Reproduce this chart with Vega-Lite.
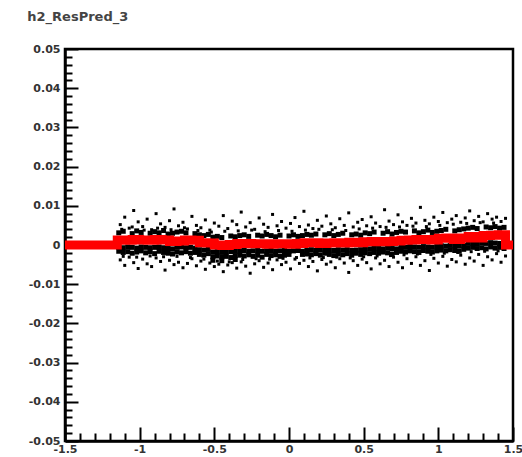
{
  "$schema": "https://vega.github.io/schema/vega-lite/v6.json",
  "width": 448,
  "height": 392,
  "autosize": {"type": "none"},
  "padding": {"left": 65, "top": 49, "right": 9, "bottom": 16},
  "background": "white",
  "config": {
    "view": {"stroke": "black", "strokeWidth": 2.5},
    "axis": {"grid": false, "domainColor": "black", "domainWidth": 2.5, "tickColor": "black", "tickWidth": 2, "labelFont": "DejaVu Sans", "labelFontWeight": "bold", "labelFontSize": 11, "labelColor": "#333", "labelOverlap": false, "labelBound": false, "labelFlush": false, "title": null}
  },
  "title": {"text": "h2_ResPred_3", "anchor": "start", "dx": -1, "offset": 19, "font": "DejaVu Sans", "fontSize": 13, "fontWeight": "bold", "color": "#444"},
  "datasets": {
    "band": [
      {"x": -1.14, "y": 0.0031}, {"x": -1.14, "y": -0.0006}, {"x": -1.14, "y": -0.0016},
      {"x": -1.11, "y": 0.0035}, {"x": -1.11, "y": -0.0007}, {"x": -1.11, "y": -0.0019},
      {"x": -1.08, "y": -0.0005}, {"x": -1.08, "y": -0.0017},
      {"x": -1.05, "y": 0.0029}, {"x": -1.05, "y": -0.0006}, {"x": -1.05, "y": -0.0021},
      {"x": -1.02, "y": 0.0036}, {"x": -1.02, "y": -0.0008}, {"x": -1.02, "y": -0.0018},
      {"x": -0.99, "y": 0.0032}, {"x": -0.99, "y": -0.0005}, {"x": -0.99, "y": -0.0015},
      {"x": -0.96, "y": -0.0006}, {"x": -0.96, "y": -0.0020},
      {"x": -0.93, "y": 0.0030}, {"x": -0.93, "y": -0.0007}, {"x": -0.93, "y": -0.0017},
      {"x": -0.90, "y": 0.0034}, {"x": -0.90, "y": -0.0006}, {"x": -0.90, "y": -0.0022},
      {"x": -0.87, "y": 0.0031}, {"x": -0.87, "y": -0.0005}, {"x": -0.87, "y": -0.0016},
      {"x": -0.84, "y": 0.0037}, {"x": -0.84, "y": -0.0007}, {"x": -0.84, "y": -0.0019},
      {"x": -0.81, "y": 0.0028}, {"x": -0.81, "y": -0.0009}, {"x": -0.81, "y": -0.0021},
      {"x": -0.78, "y": 0.0030}, {"x": -0.78, "y": -0.0010}, {"x": -0.78, "y": -0.0023},
      {"x": -0.75, "y": 0.0033}, {"x": -0.75, "y": -0.0006}, {"x": -0.75, "y": -0.0018},
      {"x": -0.72, "y": 0.0035}, {"x": -0.72, "y": -0.0005}, {"x": -0.72, "y": -0.0020},
      {"x": -0.69, "y": 0.0031}, {"x": -0.69, "y": -0.0007}, {"x": -0.69, "y": -0.0017},
      {"x": -0.66, "y": -0.0006}, {"x": -0.66, "y": -0.0021},
      {"x": -0.63, "y": 0.0029}, {"x": -0.63, "y": -0.0008}, {"x": -0.63, "y": -0.0019},
      {"x": -0.60, "y": 0.0026}, {"x": -0.60, "y": -0.0012}, {"x": -0.60, "y": -0.0024},
      {"x": -0.57, "y": 0.0024}, {"x": -0.57, "y": -0.0013}, {"x": -0.57, "y": -0.0026},
      {"x": -0.54, "y": 0.0027}, {"x": -0.54, "y": -0.0011}, {"x": -0.54, "y": -0.0022},
      {"x": -0.51, "y": 0.0020}, {"x": -0.51, "y": -0.0018}, {"x": -0.51, "y": -0.0030}, {"x": -0.51, "y": -0.0039},
      {"x": -0.48, "y": 0.0022}, {"x": -0.48, "y": -0.0017}, {"x": -0.48, "y": -0.0028},
      {"x": -0.45, "y": 0.0019}, {"x": -0.45, "y": -0.0019}, {"x": -0.45, "y": -0.0031}, {"x": -0.45, "y": -0.0040},
      {"x": -0.42, "y": -0.0018}, {"x": -0.42, "y": -0.0029},
      {"x": -0.39, "y": 0.0023}, {"x": -0.39, "y": -0.0017}, {"x": -0.39, "y": -0.0032},
      {"x": -0.36, "y": 0.0021}, {"x": -0.36, "y": -0.0016}, {"x": -0.36, "y": -0.0027}, {"x": -0.36, "y": -0.0037},
      {"x": -0.33, "y": 0.0024}, {"x": -0.33, "y": -0.0015}, {"x": -0.33, "y": -0.0026},
      {"x": -0.30, "y": 0.0026}, {"x": -0.30, "y": -0.0014}, {"x": -0.30, "y": -0.0028},
      {"x": -0.27, "y": 0.0022}, {"x": -0.27, "y": -0.0016}, {"x": -0.27, "y": -0.0025},
      {"x": -0.24, "y": -0.0015}, {"x": -0.24, "y": -0.0029},
      {"x": -0.21, "y": 0.0025}, {"x": -0.21, "y": -0.0014}, {"x": -0.21, "y": -0.0026},
      {"x": -0.18, "y": 0.0023}, {"x": -0.18, "y": -0.0016}, {"x": -0.18, "y": -0.0031},
      {"x": -0.15, "y": 0.0027}, {"x": -0.15, "y": -0.0015}, {"x": -0.15, "y": -0.0024},
      {"x": -0.12, "y": 0.0024}, {"x": -0.12, "y": -0.0014}, {"x": -0.12, "y": -0.0027},
      {"x": -0.09, "y": 0.0021}, {"x": -0.09, "y": -0.0016}, {"x": -0.09, "y": -0.0025},
      {"x": -0.06, "y": 0.0025}, {"x": -0.06, "y": -0.0015}, {"x": -0.06, "y": -0.0029},
      {"x": -0.03, "y": -0.0014}, {"x": -0.03, "y": -0.0026},
      {"x": 0.00, "y": 0.0023}, {"x": 0.00, "y": -0.0016}, {"x": 0.00, "y": -0.0024},
      {"x": 0.03, "y": 0.0026}, {"x": 0.03, "y": -0.0015},
      {"x": 0.06, "y": 0.0022}, {"x": 0.06, "y": -0.0014},
      {"x": 0.09, "y": 0.0024}, {"x": 0.09, "y": -0.0016}, {"x": 0.09, "y": -0.0024},
      {"x": 0.12, "y": 0.0027}, {"x": 0.12, "y": -0.0013}, {"x": 0.12, "y": -0.0023},
      {"x": 0.15, "y": 0.0025}, {"x": 0.15, "y": -0.0012}, {"x": 0.15, "y": -0.0025},
      {"x": 0.18, "y": 0.0028}, {"x": 0.18, "y": -0.0014}, {"x": 0.18, "y": -0.0022},
      {"x": 0.21, "y": -0.0013}, {"x": 0.21, "y": -0.0026},
      {"x": 0.24, "y": 0.0026}, {"x": 0.24, "y": -0.0012}, {"x": 0.24, "y": -0.0021},
      {"x": 0.27, "y": 0.0029}, {"x": 0.27, "y": -0.0013}, {"x": 0.27, "y": -0.0024},
      {"x": 0.30, "y": 0.0024}, {"x": 0.30, "y": -0.0014}, {"x": 0.30, "y": -0.0027},
      {"x": 0.33, "y": 0.0027}, {"x": 0.33, "y": -0.0012}, {"x": 0.33, "y": -0.0023},
      {"x": 0.36, "y": 0.0030}, {"x": 0.36, "y": -0.0013}, {"x": 0.36, "y": -0.0025},
      {"x": 0.39, "y": -0.0012}, {"x": 0.39, "y": -0.0022},
      {"x": 0.42, "y": 0.0026}, {"x": 0.42, "y": -0.0014}, {"x": 0.42, "y": -0.0026},
      {"x": 0.45, "y": 0.0028}, {"x": 0.45, "y": -0.0013}, {"x": 0.45, "y": -0.0021},
      {"x": 0.48, "y": 0.0025}, {"x": 0.48, "y": -0.0012}, {"x": 0.48, "y": -0.0024},
      {"x": 0.51, "y": 0.0031}, {"x": 0.51, "y": -0.0009}, {"x": 0.51, "y": -0.0020},
      {"x": 0.54, "y": 0.0029}, {"x": 0.54, "y": -0.0010}, {"x": 0.54, "y": -0.0022},
      {"x": 0.57, "y": 0.0033}, {"x": 0.57, "y": -0.0008}, {"x": 0.57, "y": -0.0019},
      {"x": 0.60, "y": -0.0009}, {"x": 0.60, "y": -0.0021},
      {"x": 0.63, "y": 0.0030}, {"x": 0.63, "y": -0.0010}, {"x": 0.63, "y": -0.0018},
      {"x": 0.66, "y": 0.0034}, {"x": 0.66, "y": -0.0008}, {"x": 0.66, "y": -0.0020},
      {"x": 0.69, "y": 0.0028}, {"x": 0.69, "y": -0.0009}, {"x": 0.69, "y": -0.0023},
      {"x": 0.72, "y": 0.0032}, {"x": 0.72, "y": -0.0010}, {"x": 0.72, "y": -0.0019},
      {"x": 0.75, "y": 0.0035}, {"x": 0.75, "y": -0.0005}, {"x": 0.75, "y": -0.0016},
      {"x": 0.78, "y": 0.0033}, {"x": 0.78, "y": -0.0006}, {"x": 0.78, "y": -0.0018},
      {"x": 0.81, "y": -0.0004}, {"x": 0.81, "y": -0.0015},
      {"x": 0.84, "y": 0.0036}, {"x": 0.84, "y": -0.0005}, {"x": 0.84, "y": -0.0017},
      {"x": 0.87, "y": 0.0031}, {"x": 0.87, "y": -0.0006}, {"x": 0.87, "y": -0.0019},
      {"x": 0.90, "y": 0.0034}, {"x": 0.90, "y": -0.0004}, {"x": 0.90, "y": -0.0014},
      {"x": 0.93, "y": 0.0038}, {"x": 0.93, "y": -0.0005}, {"x": 0.93, "y": -0.0016},
      {"x": 0.96, "y": 0.0032}, {"x": 0.96, "y": -0.0006}, {"x": 0.96, "y": -0.0018},
      {"x": 0.99, "y": 0.0035}, {"x": 0.99, "y": -0.0004}, {"x": 0.99, "y": -0.0015},
      {"x": 1.02, "y": 0.0037}, {"x": 1.02, "y": -0.0002}, {"x": 1.02, "y": -0.0013},
      {"x": 1.05, "y": 0.0040}, {"x": 1.05, "y": -0.0003}, {"x": 1.05, "y": -0.0015},
      {"x": 1.08, "y": -0.0001}, {"x": 1.08, "y": -0.0012},
      {"x": 1.11, "y": 0.0036}, {"x": 1.11, "y": -0.0002}, {"x": 1.11, "y": -0.0014},
      {"x": 1.14, "y": 0.0039}, {"x": 1.14, "y": -0.0003}, {"x": 1.14, "y": -0.0016},
      {"x": 1.17, "y": 0.0041}, {"x": 1.17, "y": -0.0001}, {"x": 1.17, "y": -0.0011},
      {"x": 1.20, "y": 0.0043}, {"x": 1.20, "y": 0.0004}, {"x": 1.20, "y": -0.0008},
      {"x": 1.23, "y": 0.0045}, {"x": 1.23, "y": 0.0005}, {"x": 1.23, "y": -0.0006},
      {"x": 1.26, "y": 0.0042}, {"x": 1.26, "y": 0.0003}, {"x": 1.26, "y": -0.0009},
      {"x": 1.29, "y": 0.0005}, {"x": 1.29, "y": -0.0007},
      {"x": 1.32, "y": 0.0046}, {"x": 1.32, "y": 0.0004}, {"x": 1.32, "y": -0.0010},
      {"x": 1.35, "y": 0.0044}, {"x": 1.35, "y": 0.0006}, {"x": 1.35, "y": -0.0005},
      {"x": 1.38, "y": 0.0047}, {"x": 1.38, "y": 0.0005}, {"x": 1.38, "y": -0.0008},
      {"x": 1.41, "y": 0.0043}, {"x": 1.41, "y": 0.0004}, {"x": 1.41, "y": -0.0006},
      {"x": 1.44, "y": 0.0045}, {"x": 1.44, "y": 0.0003}, {"x": 1.44, "y": -0.0009}
    ],
    "sparse": [
      {"x": -1.13, "y": 0.0052}, {"x": -1.10, "y": 0.0071}, {"x": -1.07, "y": 0.0043}, {"x": -1.04, "y": 0.0088}, {"x": -1.01, "y": 0.0059},
      {"x": -0.98, "y": 0.0047}, {"x": -0.95, "y": 0.0066}, {"x": -0.92, "y": 0.0039}, {"x": -0.89, "y": 0.0080}, {"x": -0.86, "y": 0.0054},
      {"x": -0.83, "y": 0.0045}, {"x": -0.80, "y": 0.0062}, {"x": -0.77, "y": 0.0092}, {"x": -0.74, "y": 0.0049}, {"x": -0.71, "y": 0.0058},
      {"x": -0.68, "y": 0.0041}, {"x": -0.65, "y": 0.0073}, {"x": -0.62, "y": 0.0050}, {"x": -0.59, "y": 0.0044}, {"x": -0.56, "y": 0.0064},
      {"x": -0.53, "y": 0.0038}, {"x": -0.50, "y": 0.0056}, {"x": -0.47, "y": 0.0048}, {"x": -0.44, "y": 0.0075}, {"x": -0.41, "y": 0.0042},
      {"x": -0.38, "y": 0.0061}, {"x": -0.35, "y": 0.0052}, {"x": -0.32, "y": 0.0084}, {"x": -0.29, "y": 0.0046}, {"x": -0.26, "y": 0.0057},
      {"x": -0.23, "y": 0.0040}, {"x": -0.20, "y": 0.0069}, {"x": -0.17, "y": 0.0053}, {"x": -0.14, "y": 0.0045}, {"x": -0.11, "y": 0.0078},
      {"x": -0.08, "y": 0.0049}, {"x": -0.05, "y": 0.0060}, {"x": -0.02, "y": 0.0043}, {"x": 0.01, "y": 0.0055}, {"x": 0.04, "y": 0.0070},
      {"x": 0.07, "y": 0.0047}, {"x": 0.10, "y": 0.0086}, {"x": 0.13, "y": 0.0051}, {"x": 0.16, "y": 0.0042}, {"x": 0.19, "y": 0.0063},
      {"x": 0.22, "y": 0.0048}, {"x": 0.25, "y": 0.0074}, {"x": 0.28, "y": 0.0054}, {"x": 0.31, "y": 0.0044}, {"x": 0.34, "y": 0.0067},
      {"x": 0.37, "y": 0.0050}, {"x": 0.40, "y": 0.0082}, {"x": 0.43, "y": 0.0046}, {"x": 0.46, "y": 0.0058}, {"x": 0.49, "y": 0.0065},
      {"x": 0.52, "y": 0.0049}, {"x": 0.55, "y": 0.0072}, {"x": 0.58, "y": 0.0056}, {"x": 0.61, "y": 0.0047}, {"x": 0.64, "y": 0.0090},
      {"x": 0.67, "y": 0.0061}, {"x": 0.70, "y": 0.0052}, {"x": 0.73, "y": 0.0077}, {"x": 0.76, "y": 0.0059}, {"x": 0.79, "y": 0.0050},
      {"x": 0.82, "y": 0.0068}, {"x": 0.85, "y": 0.0056}, {"x": 0.88, "y": 0.0096}, {"x": 0.91, "y": 0.0063}, {"x": 0.94, "y": 0.0054},
      {"x": 0.97, "y": 0.0071}, {"x": 1.00, "y": 0.0060}, {"x": 1.03, "y": 0.0083}, {"x": 1.06, "y": 0.0057}, {"x": 1.09, "y": 0.0066},
      {"x": 1.12, "y": 0.0075}, {"x": 1.15, "y": 0.0058}, {"x": 1.18, "y": 0.0069}, {"x": 1.21, "y": 0.0087}, {"x": 1.24, "y": 0.0062},
      {"x": 1.27, "y": 0.0073}, {"x": 1.30, "y": 0.0059}, {"x": 1.33, "y": 0.0080}, {"x": 1.36, "y": 0.0066}, {"x": 1.39, "y": 0.0071},
      {"x": 1.42, "y": 0.0060}, {"x": 1.45, "y": 0.0068},
      {"x": -1.12, "y": 0.0040}, {"x": -1.05, "y": 0.0046}, {"x": -0.97, "y": 0.0038}, {"x": -0.88, "y": 0.0043}, {"x": -0.79, "y": 0.0039},
      {"x": -0.70, "y": 0.0044}, {"x": -0.61, "y": 0.0037}, {"x": -0.52, "y": 0.0033}, {"x": -0.43, "y": 0.0035}, {"x": -0.34, "y": 0.0036},
      {"x": -0.25, "y": 0.0038}, {"x": -0.16, "y": 0.0034}, {"x": -0.07, "y": 0.0037}, {"x": 0.02, "y": 0.0035}, {"x": 0.11, "y": 0.0038},
      {"x": 0.20, "y": 0.0040}, {"x": 0.29, "y": 0.0039}, {"x": 0.38, "y": 0.0037}, {"x": 0.47, "y": 0.0041}, {"x": 0.56, "y": 0.0043},
      {"x": 0.65, "y": 0.0045}, {"x": 0.74, "y": 0.0046}, {"x": 0.83, "y": 0.0048}, {"x": 0.92, "y": 0.0047}, {"x": 1.01, "y": 0.0050},
      {"x": 1.10, "y": 0.0053}, {"x": 1.19, "y": 0.0055}, {"x": 1.28, "y": 0.0057}, {"x": 1.37, "y": 0.0056},
      {"x": -1.13, "y": -0.0038}, {"x": -1.10, "y": -0.0052}, {"x": -1.07, "y": -0.0031}, {"x": -1.04, "y": -0.0045}, {"x": -1.01, "y": -0.0060},
      {"x": -0.98, "y": -0.0036}, {"x": -0.95, "y": -0.0048}, {"x": -0.92, "y": -0.0055}, {"x": -0.89, "y": -0.0033}, {"x": -0.86, "y": -0.0042},
      {"x": -0.83, "y": -0.0064}, {"x": -0.80, "y": -0.0039}, {"x": -0.77, "y": -0.0050}, {"x": -0.74, "y": -0.0044}, {"x": -0.71, "y": -0.0058},
      {"x": -0.68, "y": -0.0047}, {"x": -0.65, "y": -0.0035}, {"x": -0.62, "y": -0.0053}, {"x": -0.59, "y": -0.0041}, {"x": -0.56, "y": -0.0062},
      {"x": -0.53, "y": -0.0046}, {"x": -0.50, "y": -0.0055}, {"x": -0.47, "y": -0.0049}, {"x": -0.44, "y": -0.0068}, {"x": -0.41, "y": -0.0051},
      {"x": -0.38, "y": -0.0045}, {"x": -0.35, "y": -0.0059}, {"x": -0.32, "y": -0.0043}, {"x": -0.29, "y": -0.0054}, {"x": -0.26, "y": -0.0072},
      {"x": -0.23, "y": -0.0048}, {"x": -0.20, "y": -0.0040}, {"x": -0.17, "y": -0.0057}, {"x": -0.14, "y": -0.0046}, {"x": -0.11, "y": -0.0063},
      {"x": -0.08, "y": -0.0038}, {"x": -0.05, "y": -0.0050}, {"x": -0.02, "y": -0.0044}, {"x": 0.01, "y": -0.0061}, {"x": 0.04, "y": -0.0036},
      {"x": 0.07, "y": -0.0047}, {"x": 0.10, "y": -0.0039}, {"x": 0.13, "y": -0.0055}, {"x": 0.16, "y": -0.0042}, {"x": 0.19, "y": -0.0066},
      {"x": 0.22, "y": -0.0037}, {"x": 0.25, "y": -0.0049}, {"x": 0.28, "y": -0.0043}, {"x": 0.31, "y": -0.0058}, {"x": 0.34, "y": -0.0035},
      {"x": 0.37, "y": -0.0046}, {"x": 0.40, "y": -0.0070}, {"x": 0.43, "y": -0.0040}, {"x": 0.46, "y": -0.0052}, {"x": 0.49, "y": -0.0036},
      {"x": 0.52, "y": -0.0045}, {"x": 0.55, "y": -0.0061}, {"x": 0.58, "y": -0.0033}, {"x": 0.61, "y": -0.0048}, {"x": 0.64, "y": -0.0039},
      {"x": 0.67, "y": -0.0055}, {"x": 0.70, "y": -0.0031}, {"x": 0.73, "y": -0.0044}, {"x": 0.76, "y": -0.0058}, {"x": 0.79, "y": -0.0035},
      {"x": 0.82, "y": -0.0047}, {"x": 0.85, "y": -0.0030}, {"x": 0.88, "y": -0.0052}, {"x": 0.91, "y": -0.0040}, {"x": 0.94, "y": -0.0065},
      {"x": 0.97, "y": -0.0034}, {"x": 1.00, "y": -0.0046}, {"x": 1.03, "y": -0.0029}, {"x": 1.06, "y": -0.0054}, {"x": 1.09, "y": -0.0037},
      {"x": 1.12, "y": -0.0043}, {"x": 1.15, "y": -0.0026}, {"x": 1.18, "y": -0.0049}, {"x": 1.21, "y": -0.0033}, {"x": 1.24, "y": -0.0041},
      {"x": 1.27, "y": -0.0024}, {"x": 1.30, "y": -0.0052}, {"x": 1.33, "y": -0.0030}, {"x": 1.36, "y": -0.0038}, {"x": 1.39, "y": -0.0022},
      {"x": 1.42, "y": -0.0044}, {"x": 1.45, "y": -0.0028},
      {"x": -1.11, "y": -0.0029}, {"x": -1.02, "y": -0.0031}, {"x": -0.93, "y": -0.0028}, {"x": -0.84, "y": -0.0030}, {"x": -0.75, "y": -0.0029},
      {"x": -0.66, "y": -0.0032}, {"x": -0.57, "y": -0.0036}, {"x": -0.48, "y": -0.0041}, {"x": -0.40, "y": -0.0043}, {"x": -0.31, "y": -0.0037},
      {"x": -0.22, "y": -0.0035}, {"x": -0.13, "y": -0.0036}, {"x": -0.04, "y": -0.0034}, {"x": 0.05, "y": -0.0032}, {"x": 0.14, "y": -0.0033},
      {"x": 0.23, "y": -0.0032}, {"x": 0.32, "y": -0.0031}, {"x": 0.41, "y": -0.0033}, {"x": 0.50, "y": -0.0030}, {"x": 0.59, "y": -0.0028},
      {"x": 0.68, "y": -0.0027}, {"x": 0.77, "y": -0.0025}, {"x": 0.86, "y": -0.0023}, {"x": 0.95, "y": -0.0024}, {"x": 1.04, "y": -0.0021},
      {"x": 1.13, "y": -0.0019}, {"x": 1.22, "y": -0.0017}, {"x": 1.31, "y": -0.0016}, {"x": 1.40, "y": -0.0015}
    ],
    "prof": [
      {"x": -1.5, "y": 0}, {"x": -1.15, "y": 0.0013}, {"x": -1.10, "y": 0.0012}, {"x": -1.05, "y": 0.0014}, {"x": -1.00, "y": 0.0013},
      {"x": -0.95, "y": 0.0012}, {"x": -0.90, "y": 0.0014}, {"x": -0.85, "y": 0.0013}, {"x": -0.80, "y": 0.0009}, {"x": -0.75, "y": 0.0010},
      {"x": -0.70, "y": 0.0013}, {"x": -0.65, "y": 0.0012}, {"x": -0.60, "y": 0.0006}, {"x": -0.55, "y": 0.0005}, {"x": -0.50, "y": 0.0000},
      {"x": -0.45, "y": -0.0001}, {"x": -0.40, "y": 0.0001}, {"x": -0.35, "y": 0.0004}, {"x": -0.30, "y": 0.0004}, {"x": -0.25, "y": 0.0003},
      {"x": -0.20, "y": 0.0003}, {"x": -0.15, "y": 0.0002}, {"x": -0.10, "y": 0.0003}, {"x": -0.05, "y": 0.0003}, {"x": 0.00, "y": 0.0002},
      {"x": 0.05, "y": 0.0004}, {"x": 0.10, "y": 0.0006}, {"x": 0.15, "y": 0.0006}, {"x": 0.20, "y": 0.0004}, {"x": 0.25, "y": 0.0005},
      {"x": 0.30, "y": 0.0006}, {"x": 0.35, "y": 0.0005}, {"x": 0.40, "y": 0.0007}, {"x": 0.45, "y": 0.0006}, {"x": 0.50, "y": 0.0008},
      {"x": 0.55, "y": 0.0009}, {"x": 0.60, "y": 0.0008}, {"x": 0.65, "y": 0.0009}, {"x": 0.70, "y": 0.0010}, {"x": 0.75, "y": 0.0012},
      {"x": 0.80, "y": 0.0013}, {"x": 0.85, "y": 0.0014}, {"x": 0.90, "y": 0.0014}, {"x": 0.95, "y": 0.0013}, {"x": 1.00, "y": 0.0017},
      {"x": 1.05, "y": 0.0018}, {"x": 1.10, "y": 0.0014}, {"x": 1.15, "y": 0.0018}, {"x": 1.20, "y": 0.0022}, {"x": 1.25, "y": 0.0018},
      {"x": 1.30, "y": 0.0024}, {"x": 1.35, "y": 0.0025}, {"x": 1.40, "y": 0.0026}, {"x": 1.45, "y": 0}, {"x": 1.5, "y": 0}
    ]
  },
  "resolve": {"axis": {"x": "independent", "y": "independent"}},
  "layer": [
    {
      "data": {"name": "band"},
      "mark": {"type": "point", "shape": "square", "filled": true, "size": 25, "color": "black", "opacity": 1, "strokeWidth": 0, "clip": true},
      "encoding": {
        "x": {"field": "x", "type": "quantitative", "scale": {"domain": [-1.5, 1.5], "nice": false, "zero": false},
          "axis": {"orient": "bottom", "values": [-1.5, -1, -0.5, 0, 0.5, 1, 1.5], "tickSize": -14, "labelPadding": 16, "labelExpr": "'' + datum.value"}},
        "y": {"field": "y", "type": "quantitative", "scale": {"domain": [-0.05, 0.05], "nice": false, "zero": false},
          "axis": {"orient": "left", "values": [-0.05, -0.04, -0.03, -0.02, -0.01, 0, 0.01, 0.02, 0.03, 0.04, 0.05], "tickSize": -13, "labelPadding": 18, "labelExpr": "'' + datum.value"}}
      }
    },
    {
      "data": {"name": "sparse"},
      "mark": {"type": "point", "shape": "square", "filled": true, "size": 9, "color": "black", "opacity": 1, "strokeWidth": 0, "clip": true},
      "encoding": {
        "x": {"field": "x", "type": "quantitative",
          "axis": {"orient": "bottom", "labels": false, "domain": false, "tickSize": -8, "values": [-1.4, -1.3, -1.2, -1.1, -0.9, -0.8, -0.7, -0.6, -0.4, -0.3, -0.2, -0.1, 0.1, 0.2, 0.3, 0.4, 0.6, 0.7, 0.8, 0.9, 1.1, 1.2, 1.3, 1.4]}},
        "y": {"field": "y", "type": "quantitative",
          "axis": {"orient": "left", "labels": false, "domain": false, "tickSize": -7, "values": [-0.048, -0.046, -0.044, -0.042, -0.038, -0.036, -0.034, -0.032, -0.028, -0.026, -0.024, -0.022, -0.018, -0.016, -0.014, -0.012, -0.008, -0.006, -0.004, -0.002, 0.002, 0.004, 0.006, 0.008, 0.012, 0.014, 0.016, 0.018, 0.022, 0.024, 0.026, 0.028, 0.032, 0.034, 0.036, 0.038, 0.042, 0.044, 0.046, 0.048]}}
      }
    },
    {
      "data": {"name": "prof"},
      "mark": {"type": "line", "interpolate": "step-after", "color": "#ff0000", "strokeWidth": 9, "clip": true},
      "encoding": {
        "x": {"field": "x", "type": "quantitative", "axis": null},
        "y": {"field": "y", "type": "quantitative", "axis": null}
      }
    }
  ]
}
